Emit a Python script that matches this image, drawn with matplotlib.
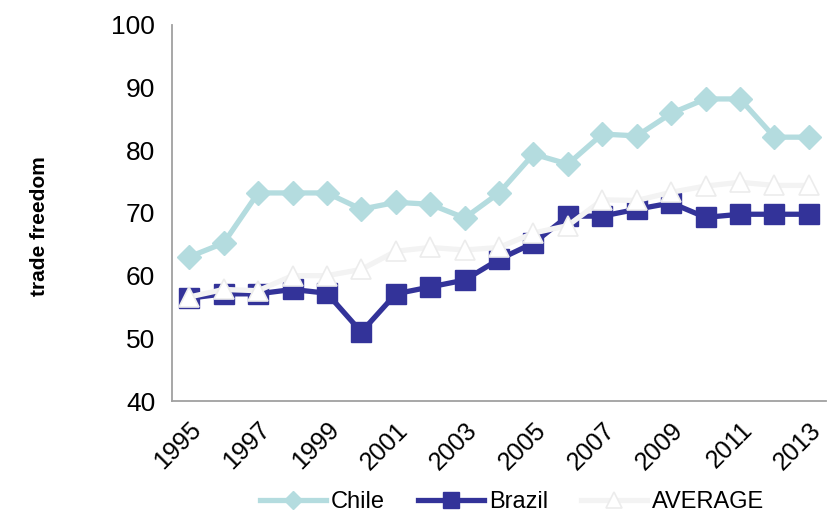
import matplotlib
matplotlib.use("Agg")
import matplotlib.pyplot as plt
import numpy as np

plt.rcParams['font.family'] = ['Liberation Sans', 'DejaVu Sans']

years = list(range(1995, 2014))
chile = [63.0, 65.2, 73.2, 73.2, 73.2, 70.6, 71.7, 71.4, 69.2, 73.2,
         79.4, 77.8, 82.6, 82.3, 85.9, 88.2, 88.2, 82.1, 82.1]
brazil = [56.4, 57.1, 57.1, 57.8, 57.2, 51.0, 57.1, 58.2, 59.3, 62.6,
          65.2, 69.5, 69.5, 70.6, 71.6, 69.3, 69.8, 69.8, 69.8]
average = [56.6, 57.8, 57.6, 60.0, 60.0, 61.0, 63.9, 64.5, 64.1, 64.5,
           66.8, 68.0, 72.1, 72.0, 73.3, 74.3, 74.9, 74.4, 74.4]
tick_years = years[::2]

fig = plt.figure(figsize=(8.29, 5.13), dpi=100)
ax = fig.add_axes([0.2075, 0.2183, 0.789, 0.733])

x = np.arange(len(years))
ax.plot(x, chile, color='#b4dcdf', lw=3.8, marker='D', ms=12,
        mec='#b4dcdf', label='Chile', zorder=2)
ax.plot(x, average, color='#f3f3f3', lw=3.8, marker='^', ms=15,
        mfc='white', mec='#ececec', mew=1.2, label='AVERAGE', zorder=4)
ax.plot(x, brazil, color='#333399', lw=3.8, marker='s', ms=14,
        mec='#333399', label='Brazil', zorder=3)

ax.set_xlim(-0.5, len(years) - 0.5)
ax.set_ylim(40, 100)
ax.set_yticks(range(40, 101, 10))
ax.set_xticks([years.index(y) for y in tick_years])
ax.set_xticklabels([str(y) for y in tick_years], rotation=45, ha='right',
                   rotation_mode='anchor', fontsize=18)
ax.tick_params(axis='y', labelsize=19, length=0, pad=12)
ax.tick_params(axis='x', length=0, pad=12)
for s in ['top', 'right']:
    ax.spines[s].set_visible(False)
for s in ['left', 'bottom']:
    ax.spines[s].set_color('#a0a0a0')
    ax.spines[s].set_linewidth(1.3)

fig.text(0.048, 0.56, 'trade freedom', rotation=90, ha='center', va='center',
         fontsize=15, fontweight='bold')

handles, labels = ax.get_legend_handles_labels()
order = [0, 2, 1]
ax.legend([handles[i] for i in order], [labels[i] for i in order],
          loc='lower center', bbox_to_anchor=(0.52, -0.355), ncol=3,
          frameon=False, fontsize=17, handlelength=2.8, columnspacing=1.4,
          handletextpad=0.2, markerscale=0.8)

fig.savefig('out.png', dpi=100)
